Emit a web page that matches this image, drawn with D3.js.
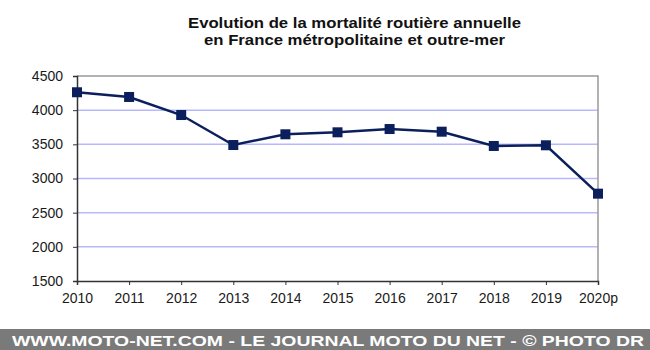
<!DOCTYPE html>
<html>
<head>
<meta charset="utf-8">
<script src="https://cdn.jsdelivr.net/npm/d3@7"></script>
<style>
  body { margin: 0; background: #fff; }
  svg { display: block; font-family: "Liberation Sans", Arial, sans-serif; }
</style>
</head>
<body>
<div id="chart"></div>
<script>
var years = ['2010', '2011', '2012', '2013', '2014', '2015', '2016', '2017', '2018', '2019', '2020p']
var deaths = [4262, 4193, 3929, 3490, 3647, 3676, 3724, 3685, 3476, 3486, 2778]
var yTicks = [1500, 2000, 2500, 3000, 3500, 4000, 4500]
var titleLines = ['Evolution de la mortalité routière annuelle', 'en France métropolitaine et outre-mer']
var footer = 'WWW.MOTO-NET.COM - LE JOURNAL MOTO DU NET - © PHOTO DR'

var width = 650, height = 350
var plot = {left: 77, right: 598, top: 76, bottom: 281}

var svg = d3.select('#chart').append('svg')
  .attr('width', width)
  .attr('height', height)

var x = d3.scalePoint()
  .domain(years)
  .range([plot.left, plot.right])

var y = d3.scaleLinear()
  .domain([1500, 4500])
  .range([plot.bottom, plot.top])

// TITLE
var titleWidths = [333, 301]
svg.append('g').selectAll('text')
  .data(titleLines)
  .enter().append('text')
    .attr('x', 354.5)
    .attr('y', (d, i) => 27.5 + i * 17)
    .attr('text-anchor', 'middle')
    .style('font-size', '15px')
    .style('font-weight', 'bold')
    .attr('fill', '#111')
    .attr('textLength', (d, i) => titleWidths[i])
    .attr('lengthAdjust', 'spacingAndGlyphs')
    .text(d => d)

// GRID
svg.append('g').selectAll('line')
  .data(yTicks.filter(d => d > 1500 && d < 4500))
  .enter().append('line')
    .attr('x1', plot.left).attr('x2', plot.right)
    .attr('y1', d => y(d)).attr('y2', d => y(d))
    .attr('stroke', '#b8b8ff')
    .attr('stroke-width', 1.5)

// frame top + right
svg.append('path')
  .attr('d', 'M' + plot.left + ',' + plot.top + 'H' + plot.right + 'V' + plot.bottom)
  .attr('fill', 'none')
  .attr('stroke', '#999')
  .attr('stroke-width', 1.5)

// AXES
var yAxis = d3.axisLeft(y).tickValues(yTicks).tickFormat(d3.format('d')).tickSize(4).tickPadding(10)
var xAxis = d3.axisBottom(x).tickSize(4).tickPadding(8)

svg.append('g')
  .attr('transform', 'translate(' + plot.left + ',0)')
  .call(yAxis)
  .call(g => {
    g.select('.domain').attr('stroke', '#333').attr('stroke-width', 1.5)
    g.selectAll('line').attr('stroke', '#333')
    g.selectAll('text').attr('fill', '#1a1a1a').style('font-size', '14px').style('font-family', null)
  })

svg.append('g')
  .attr('transform', 'translate(0,' + plot.bottom + ')')
  .call(xAxis)
  .call(g => {
    g.select('.domain').attr('stroke', '#333').attr('stroke-width', 1.5)
    g.selectAll('line').attr('stroke', '#333')
    g.selectAll('text').attr('fill', '#1a1a1a').style('font-size', '14px').style('font-family', null)
  })

// LINE
var data = years.map((d, i) => ({year: d, value: deaths[i]}))

svg.append('path')
  .datum(data)
  .attr('fill', 'none')
  .attr('stroke', '#0b1f5c')
  .attr('stroke-width', 2.5)
  .attr('d', d3.line().x(d => x(d.year)).y(d => y(d.value)))

var s = 10
svg.append('g').selectAll('rect')
  .data(data)
  .enter().append('rect')
    .attr('x', d => x(d.year) - s / 2)
    .attr('y', d => y(d.value) - s / 2)
    .attr('width', s)
    .attr('height', s)
    .attr('fill', '#0b1f5c')

// FOOTER BAND
svg.append('rect')
  .attr('x', 0).attr('y', 329)
  .attr('width', width).attr('height', height - 329)
  .attr('fill', '#7a7a7a')

svg.append('text')
  .attr('x', 328)
  .attr('y', 345.5)
  .attr('text-anchor', 'middle')
  .attr('fill', '#fff')
  .style('font-size', '15px')
  .style('font-weight', 'bold')
  .attr('textLength', 632)
  .attr('lengthAdjust', 'spacingAndGlyphs')
  .text(footer)
</script>
</body>
</html>
